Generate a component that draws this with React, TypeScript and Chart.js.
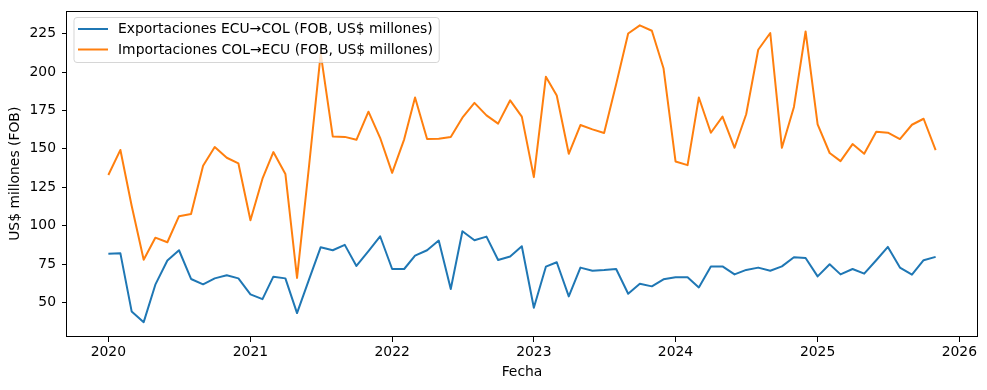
import React, { useEffect, useRef } from "react";
import { Chart, registerables } from "chart.js";

Chart.register(...registerables);

const months = [
  "2020-01", "2020-02", "2020-03", "2020-04", "2020-05", "2020-06", "2020-07", "2020-08", "2020-09", "2020-10", "2020-11", "2020-12",
  "2021-01", "2021-02", "2021-03", "2021-04", "2021-05", "2021-06", "2021-07", "2021-08", "2021-09", "2021-10", "2021-11", "2021-12",
  "2022-01", "2022-02", "2022-03", "2022-04", "2022-05", "2022-06", "2022-07", "2022-08", "2022-09", "2022-10", "2022-11", "2022-12",
  "2023-01", "2023-02", "2023-03", "2023-04", "2023-05", "2023-06", "2023-07", "2023-08", "2023-09", "2023-10", "2023-11", "2023-12",
  "2024-01", "2024-02", "2024-03", "2024-04", "2024-05", "2024-06", "2024-07", "2024-08", "2024-09", "2024-10", "2024-11", "2024-12",
  "2025-01", "2025-02", "2025-03", "2025-04", "2025-05", "2025-06", "2025-07", "2025-08", "2025-09", "2025-10", "2025-11",
];

const exportsECU = [
  81.8, 82.0, 44.2, 37.2, 61.6, 77.3, 84.0, 65.3, 61.8, 65.7, 67.7, 65.7,
  55.3, 52.2, 66.8, 65.7, 43.1, 65.0, 86.0, 84.0, 87.5, 73.8, 83.5, 93.1,
  71.8, 71.8, 80.5, 84.0, 90.3, 58.8, 96.4, 90.5, 92.9, 77.7, 79.9, 86.6,
  46.6, 73.3, 76.2, 54.0, 72.7, 70.7, 71.1, 71.8, 55.7, 62.2, 60.5, 65.1,
  66.4, 66.4, 59.8, 73.5, 73.5, 68.3, 71.2, 72.7, 70.7, 73.5, 79.4, 79.0,
  67.0, 74.9, 68.3, 71.8, 68.8, 77.5, 86.2, 72.7, 68.1, 77.5, 79.7,
];

const importsCOL = [
  133.0, 149.3, 113.0, 77.8, 92.2, 89.2, 106.2, 107.6, 139.0, 151.2, 144.2, 140.5,
  103.5, 130.6, 147.9, 133.7, 66.0, 139.0, 212.0, 158.1, 157.8, 155.9, 174.2, 157.2,
  134.4, 156.2, 183.4, 156.4, 156.6, 157.7, 170.3, 179.9, 171.8, 166.4, 181.6, 171.0,
  131.6, 196.9, 184.7, 146.8, 165.5, 162.7, 160.3, 192.0, 225.1, 230.4, 226.9, 202.5,
  141.8, 139.4, 183.4, 160.5, 171.0, 150.7, 172.5, 214.5, 225.4, 150.7, 177.3, 226.4,
  166.0, 147.3, 142.0, 153.1, 146.8, 161.2, 160.5, 156.4, 165.7, 169.6, 149.2,
];

const seriesLabels = [
  "Exportaciones ECU→COL (FOB, US$ millones)",
  "Importaciones COL→ECU (FOB, US$ millones)",
];
const seriesColors = ["#1f77b4", "#ff7f0e"];
const yTicks = [50, 75, 100, 125, 150, 175, 200, 225];
const xTickYears = [2020, 2021, 2022, 2023, 2024, 2025, 2026];
const xTitle = "Fecha";
const yTitle = "US$ millones (FOB)";

const FONT = "DejaVu Sans";
const FS = 13.9;
const DAY = 86400000;
const toDay = (s: string) => {
  const [y, m] = s.split("-").map(Number);
  return Date.UTC(y, m - 1, 1) / DAY;
};

const frameAndLegend = {
  id: "frameAndLegend",
  afterDatasetsDraw(chart: any) {
    const ctx = chart.ctx as CanvasRenderingContext2D;
    const a = chart.chartArea;
    ctx.save();
    // frame (spines)
    ctx.strokeStyle = "#000";
    ctx.lineWidth = 1;
    ctx.strokeRect(Math.round(a.left) - 0.5, Math.round(a.top) + 0.5, Math.round(a.right) - Math.round(a.left) + 1, Math.round(a.bottom) - Math.round(a.top) - 1);

    // legend
    ctx.font = `${FS}px "${FONT}"`;
    const widths = seriesLabels.map((t) => ctx.measureText(t).width);
    const x0 = a.left + 7;
    const y0 = a.top + 7;
    const textX = x0 + 44;
    const w = textX + Math.max(...widths) + 6 - x0;
    const h = 45;
    const r = 3;
    ctx.beginPath();
    ctx.moveTo(x0 + r, y0);
    ctx.lineTo(x0 + w - r, y0);
    ctx.arcTo(x0 + w, y0, x0 + w, y0 + r, r);
    ctx.lineTo(x0 + w, y0 + h - r);
    ctx.arcTo(x0 + w, y0 + h, x0 + w - r, y0 + h, r);
    ctx.lineTo(x0 + r, y0 + h);
    ctx.arcTo(x0, y0 + h, x0, y0 + h - r, r);
    ctx.lineTo(x0, y0 + r);
    ctx.arcTo(x0, y0, x0 + r, y0, r);
    ctx.closePath();
    ctx.fillStyle = "rgba(255,255,255,0.8)";
    ctx.fill();
    ctx.strokeStyle = "rgba(204,204,204,0.8)";
    ctx.lineWidth = 1;
    ctx.stroke();

    seriesLabels.forEach((label, i) => {
      const ly = y0 + 11.5 + i * 20.5;
      ctx.beginPath();
      ctx.moveTo(x0 + 4, ly);
      ctx.lineTo(x0 + 34, ly);
      ctx.strokeStyle = seriesColors[i];
      ctx.lineWidth = 2;
      ctx.stroke();
      ctx.fillStyle = "#000";
      ctx.textAlign = "left";
      ctx.textBaseline = "middle";
      ctx.fillText(label, textX, ly + 0.5);
    });
    ctx.restore();
  },
};

export default function App() {
  const ref = useRef<HTMLCanvasElement | null>(null);

  useEffect(() => {
    if (!ref.current) return;
    const xs = months.map(toDay);
    const xMinD = Math.min(...xs);
    const xMaxD = Math.max(...xs);
    const xm = (xMaxD - xMinD) * 0.05;
    const allY = [...exportsECU, ...importsCOL];
    const yMinD = Math.min(...allY);
    const yMaxD = Math.max(...allY);
    const ym = (yMaxD - yMinD) * 0.05;

    const zeroPad = (s: any) => {
      s.paddingLeft = 0;
      s.paddingRight = 0;
      s.paddingTop = 0;
      s.paddingBottom = 0;
    };

    const chart = new Chart(ref.current, {
      type: "line",
      data: {
        datasets: [
          {
            label: seriesLabels[0],
            data: months.map((m, i) => ({ x: toDay(m), y: exportsECU[i] })),
            borderColor: seriesColors[0],
            backgroundColor: seriesColors[0],
            borderWidth: 2,
            pointRadius: 0,
            tension: 0,
            borderJoinStyle: "round",
          },
          {
            label: seriesLabels[1],
            data: months.map((m, i) => ({ x: toDay(m), y: importsCOL[i] })),
            borderColor: seriesColors[1],
            backgroundColor: seriesColors[1],
            borderWidth: 2,
            pointRadius: 0,
            tension: 0,
            borderJoinStyle: "round",
          },
        ],
      },
      options: {
        animation: false,
        responsive: false,
        events: [],
        layout: { padding: { top: 10.5, right: 10, bottom: 0, left: 0 } },
        plugins: { legend: { display: false }, tooltip: { enabled: false } },
        scales: {
          x: {
            type: "linear",
            min: xMinD - xm,
            max: xMaxD + xm,
            afterBuildTicks: (s: any) => {
              s.ticks = xTickYears.map((y) => ({ value: Date.UTC(y, 0, 1) / DAY }));
            },
            afterFit: (s: any) => {
              s.height = 53;
              zeroPad(s);
            },
            ticks: {
              autoSkip: false,
              maxRotation: 0,
              padding: 2,
              color: "#000",
              font: { family: FONT, size: FS },
              callback: (v: any) => String(new Date(Number(v) * DAY).getUTCFullYear()),
            },
            grid: { drawOnChartArea: false, drawTicks: true, tickLength: 5, color: "#000", lineWidth: 1 },
            border: { display: false },
            title: {
              display: true,
              text: xTitle,
              color: "#000",
              font: { family: FONT, size: FS },
              padding: { top: 0, bottom: 9.5 },
            },
          },
          y: {
            type: "linear",
            min: yMinD - ym,
            max: yMaxD + ym,
            afterBuildTicks: (s: any) => {
              s.ticks = yTicks.map((v) => ({ value: v }));
            },
            afterFit: (s: any) => {
              s.width = 67;
              zeroPad(s);
            },
            ticks: {
              padding: 6,
              color: "#000",
              font: { family: FONT, size: FS },
              callback: (v: any) => String(v),
            },
            grid: { drawOnChartArea: false, drawTicks: true, tickLength: 5, color: "#000", lineWidth: 1 },
            border: { display: false },
            title: {
              display: true,
              text: yTitle,
              color: "#000",
              font: { family: FONT, size: FS },
              padding: { top: 7, bottom: 0 },
            },
          },
        },
      },
      plugins: [frameAndLegend],
    } as any);
    return () => chart.destroy();
  }, []);

  return (
    <div style={{ position: "fixed", left: 0, top: 0, width: 987, height: 390, background: "#fff" }}>
      <canvas ref={ref} width={987} height={390} style={{ display: "block" }} />
    </div>
  );
}
